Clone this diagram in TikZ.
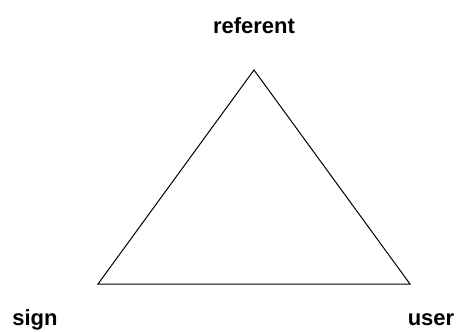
\documentclass[tikz,border=0pt]{standalone}
\usepackage{fontspec}
\setmainfont{Liberation Sans}
\begin{document}
\begin{tikzpicture}[x=1pt,y=-1pt,
  lbl/.style={font=\fontsize{22}{26}\selectfont\bfseries, inner sep=0pt, anchor=base},
  edge/.style={draw=black, line width=1pt, line join=miter}]
\useasboundingbox (0,0) rectangle (456,332);
\coordinate (top) at (254,70);
\coordinate (left) at (98,284);
\coordinate (right) at (410,284);
\draw[edge] (top) -- (left) -- (right) -- cycle;
\node[lbl] (referent) at (254,33) {referent};
\node[lbl] (sign) at (35,325) {sign};
\node[lbl] (user) at (431,325) {user};
\end{tikzpicture}
\end{document}
